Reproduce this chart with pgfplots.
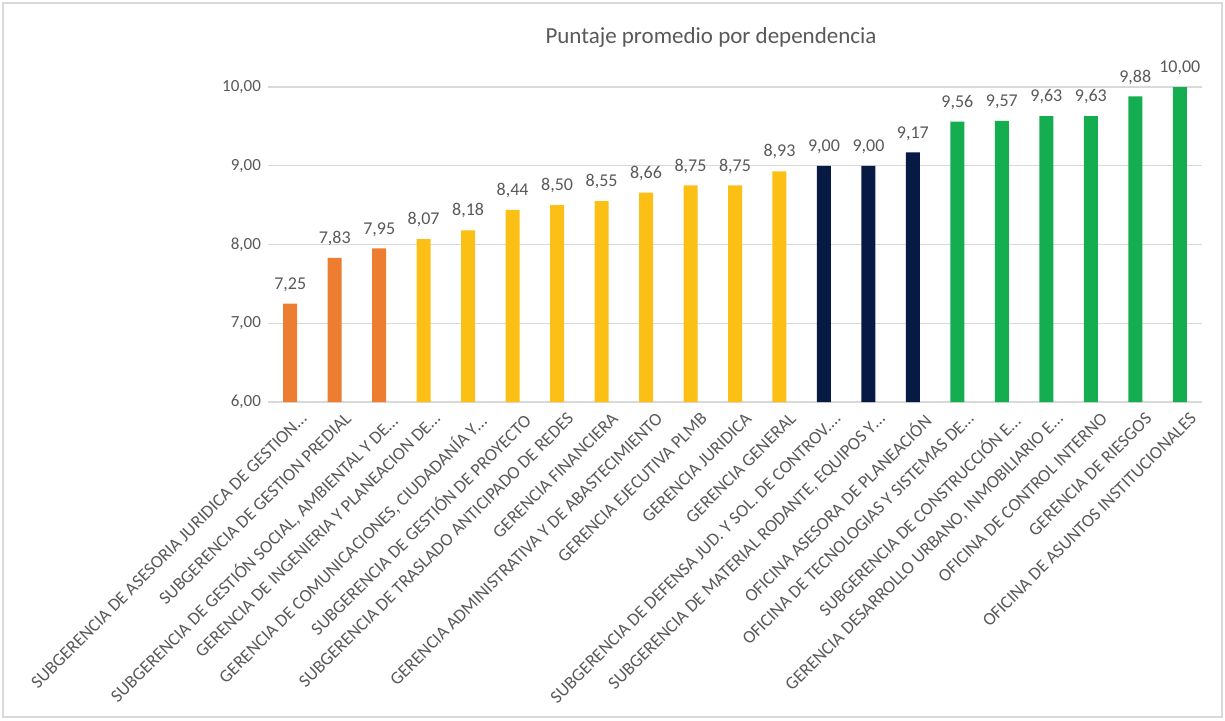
\documentclass[border=0pt]{standalone}
\usepackage{pgfplots}
\pgfplotsset{compat=1.18}
\usepackage{fontspec}
\setmainfont{Carlito}
\definecolor{cOrange}{HTML}{ED7D31}
\definecolor{cGold}{HTML}{FBBF15}
\definecolor{cNavy}{HTML}{061A44}
\definecolor{cGreen}{HTML}{14AD4F}
\definecolor{txt}{HTML}{595959}
\definecolor{gridc}{HTML}{D9D9D9}
\begin{document}
\begin{tikzpicture}
\useasboundingbox (0pt,0pt) rectangle (612.5pt,360pt);
\draw[gridc, line width=0.6pt] (1.5pt,1.5pt) rectangle (611pt,358.5pt);
\begin{axis}[
  at={(134pt,159pt)}, anchor=south west,
  scale only axis, width=467pt, height=157.5pt,
  xmin=-0.5, xmax=20.5, ymin=6, ymax=10,
  ytick={6,7,8,9,10},
  xtick={0,...,20},
  xticklabels={
    {SUBGERENCIA DE ASESORIA JURIDICA DE GESTION…},
    {SUBGERENCIA DE GESTION PREDIAL},
    {SUBGERENCIA DE GESTIÓN SOCIAL, AMBIENTAL Y DE…},
    {GERENCIA DE INGENIERIA Y PLANEACION DE…},
    {GERENCIA DE COMUNICACIONES, CIUDADANÍA Y…},
    {SUBGERENCIA DE GESTIÓN DE PROYECTO},
    {SUBGERENCIA DE TRASLADO ANTICIPADO DE REDES},
    {GERENCIA FINANCIERA},
    {GERENCIA ADMINISTRATIVA Y DE ABASTECIMIENTO},
    {GERENCIA EJECUTIVA PLMB},
    {GERENCIA JURIDICA},
    {GERENCIA GENERAL},
    {SUBGERENCIA DE DEFENSA JUD. Y SOL. DE CONTROV.…},
    {SUBGERENCIA DE MATERIAL RODANTE, EQUIPOS Y…},
    {OFICINA ASESORA DE PLANEACIÓN},
    {OFICINA DE TECNOLOGIAS Y SISTEMAS DE…},
    {SUBGERENCIA DE CONSTRUCCIÓN E…},
    {GERENCIA DESARROLLO URBANO, INMOBILIARIO E…},
    {OFICINA DE CONTROL INTERNO},
    {GERENCIA DE RIESGOS},
    {OFICINA DE ASUNTOS INSTITUCIONALES}},
  xticklabel style={rotate=45, anchor=north east, font=\fontsize{9}{10.8}\selectfont, text=txt, inner sep=1pt, xshift=1pt, yshift=-5.5pt},
  yticklabel style={font=\fontsize{8.5}{10}\selectfont, text=txt},
  /pgf/number format/assume math mode=true,
  yticklabel={\pgfmathprintnumber[fixed, fixed zerofill, precision=2, use comma]{\tick}},
  major tick length=0pt,
  ymajorgrids, grid style={gridc, line width=0.6pt},
  axis x line*=bottom,
  axis y line*=left,
  y axis line style={draw=none},
  x axis line style={gridc, line width=0.6pt},
  ybar, bar width=7pt,
  clip=false,
  nodes near coords={\pgfmathprintnumber[fixed, fixed zerofill, precision=2, use comma, assume math mode=true]{\pgfplotspointmeta}},
  every node near coord/.append style={font=\fontsize{9}{10.8}\selectfont, text=txt, yshift=2.5pt},
]
\addplot[fill=cOrange, draw=none, bar shift=0pt] coordinates {(0,7.25) (1,7.83) (2,7.95)};
\addplot[fill=cGold, draw=none, bar shift=0pt] coordinates {(3,8.07) (4,8.18) (5,8.44) (6,8.50) (7,8.55) (8,8.66) (9,8.75) (10,8.75) (11,8.93)};
\addplot[fill=cNavy, draw=none, bar shift=0pt] coordinates {(12,9.00) (13,9.00) (14,9.17)};
\addplot[fill=cGreen, draw=none, bar shift=0pt] coordinates {(15,9.56) (16,9.57) (17,9.63) (18,9.63) (19,9.88) (20,10.00)};
\end{axis}
\node[text=txt, font=\fontsize{11.5}{13.8}\selectfont] at (355.5pt,341.5pt) {Puntaje promedio por dependencia};
\end{tikzpicture}
\end{document}
